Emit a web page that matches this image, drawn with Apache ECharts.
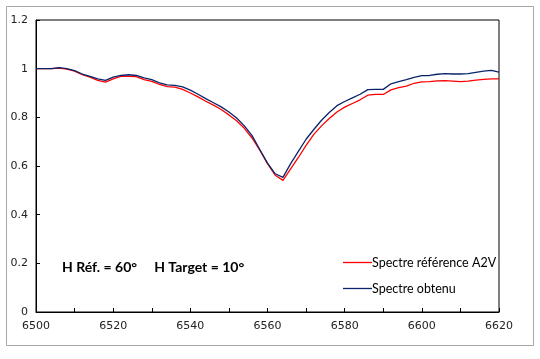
<!DOCTYPE html>
<html><head><meta charset="utf-8">
<script src="https://cdn.jsdelivr.net/npm/echarts@6/dist/echarts.min.js"></script>
<style>html,body{margin:0;padding:0;background:#fff}#c{width:540px;height:359px}</style>
</head><body><div id="c"></div>
<script>
const wavelengths = [6500,6502,6504,6506,6508,6510,6512,6514,6516,6518,6520,6522,6524,6526,6528,6530,6532,6534,6536,6538,6540,6542,6544,6546,6548,6550,6552,6554,6556,6558,6560,6562,6564,6566,6568,6570,6572,6574,6576,6578,6580,6582,6584,6586,6588,6590,6592,6594,6596,6598,6600,6602,6604,6606,6608,6610,6612,6614,6616,6618,6620];
const reference = [1.0,1.0,1.0,1.002,0.998,0.99,0.975,0.965,0.952,0.945,0.958,0.968,0.968,0.967,0.955,0.948,0.935,0.926,0.924,0.915,0.9,0.884,0.866,0.85,0.832,0.81,0.786,0.755,0.715,0.665,0.61,0.562,0.541,0.588,0.635,0.685,0.73,0.765,0.795,0.822,0.842,0.857,0.872,0.891,0.894,0.894,0.913,0.922,0.928,0.94,0.946,0.947,0.95,0.951,0.949,0.947,0.949,0.953,0.956,0.958,0.958];
const obtained  = [1.0,1.0,1.0,1.004,1.0,0.992,0.978,0.968,0.958,0.952,0.965,0.972,0.975,0.972,0.962,0.955,0.942,0.933,0.931,0.925,0.912,0.895,0.877,0.86,0.843,0.822,0.797,0.765,0.725,0.668,0.612,0.568,0.553,0.61,0.66,0.71,0.75,0.788,0.82,0.848,0.865,0.88,0.895,0.914,0.915,0.915,0.938,0.947,0.955,0.964,0.971,0.972,0.977,0.98,0.978,0.978,0.98,0.985,0.99,0.993,0.986];
const seriesNames = ['Spectre référence A2V','Spectre obtenu'];
const annotation = 'H Réf. = 60°     H Target = 10°';

const chart = echarts.init(document.getElementById('c'));
const pair = arr => wavelengths.map((w,i)=>[w,arr[i]]);
chart.setOption({
  animation:false,
  textStyle:{fontFamily:'DejaVu Sans'},
  grid:{left:36,right:41,top:20,bottom:47,show:true,borderColor:'#000',borderWidth:1,backgroundColor:'transparent'},
  xAxis:{type:'value',min:6500,max:6620,interval:10,
    axisLine:{show:true,lineStyle:{color:'#000',width:1}},
    axisTick:{show:true,inside:true,length:4,lineStyle:{color:'#000'}},
    splitLine:{show:false},
    axisLabel:{color:'#222',fontSize:11,margin:9,fontFamily:'DejaVu Sans',formatter:v=> (v%20===0? String(v):'')}},
  yAxis:{type:'value',min:0,max:1.2,interval:0.2,
    axisLine:{show:true,lineStyle:{color:'#000',width:1}},
    axisTick:{show:true,inside:true,length:4,lineStyle:{color:'#000'}},
    splitLine:{show:false},
    axisLabel:{color:'#222',fontSize:11,margin:8,fontFamily:'DejaVu Sans',formatter:v=>String(+v.toFixed(1))}},
  legend:{orient:'vertical',left:338,top:251,itemWidth:29,itemHeight:1.3,itemGap:13,icon:'rect',
    textStyle:{fontFamily:'Lato',fontSize:12.5,color:'#000',padding:[0,0,0,-5]},
    data:seriesNames},
  graphic:[
    {type:'rect',shape:{x:6.5,y:6.5,width:527,height:339},style:{fill:'none',stroke:'#a6a6a6',lineWidth:1},silent:true},
    {type:'text',left:62,top:260,style:{text:annotation,font:'bold 14px Lato',fill:'#000'},silent:true}
  ],
  series:[
    {name:seriesNames[0],type:'line',data:pair(reference),symbol:'none',smooth:false,lineStyle:{color:'#ff0000',width:1.3},itemStyle:{color:'#ff0000'}},
    {name:seriesNames[1],type:'line',data:pair(obtained),symbol:'none',smooth:false,lineStyle:{color:'#0a2469',width:1.3},itemStyle:{color:'#0a2469'}}
  ]
});
</script></body></html>
